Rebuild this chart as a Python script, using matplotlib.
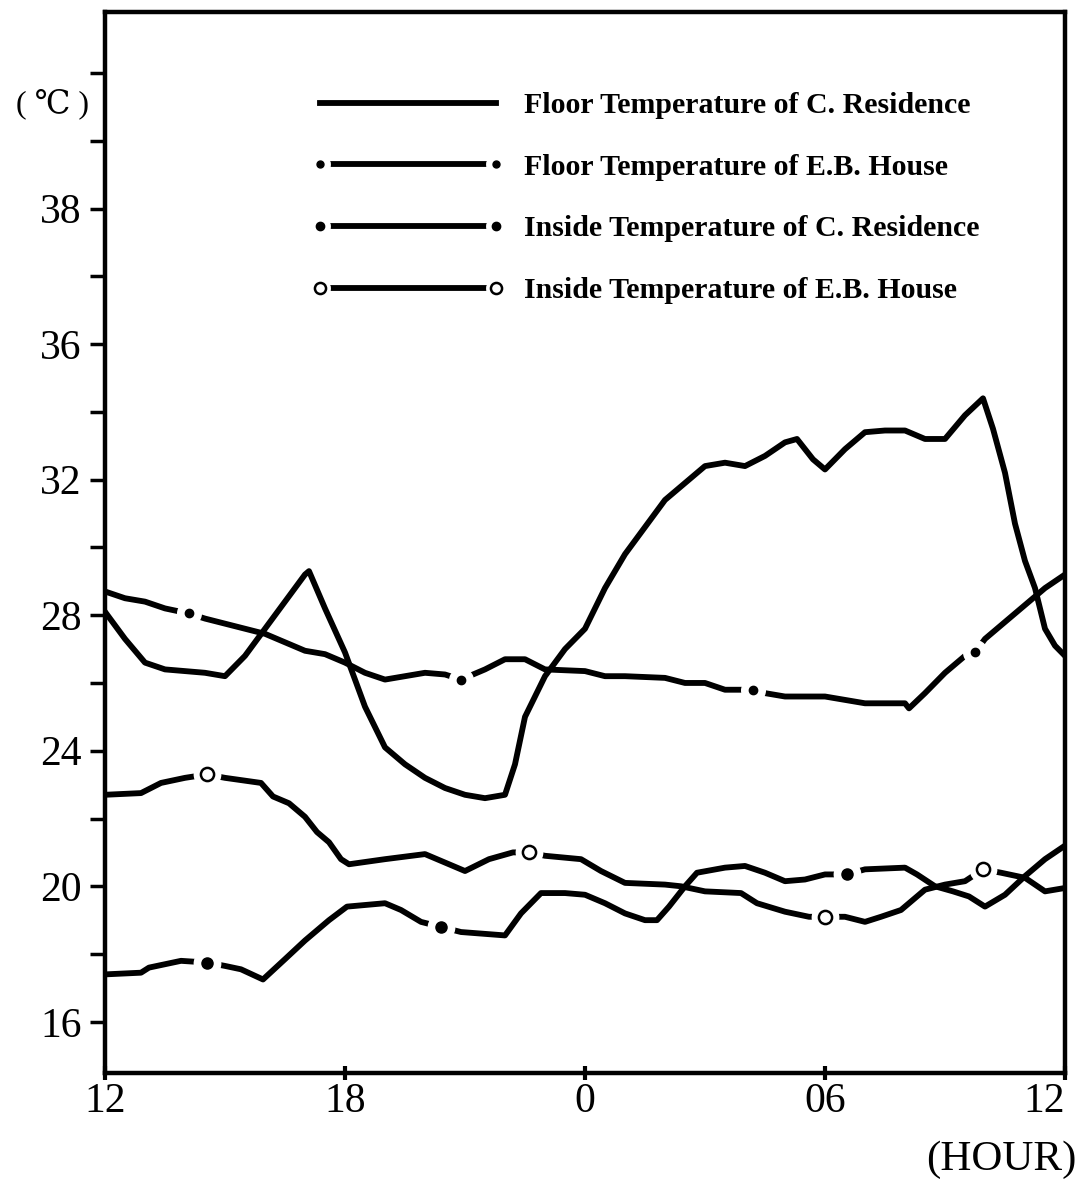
import numpy as np
import matplotlib
matplotlib.use('Agg')
import matplotlib.pyplot as plt
from matplotlib.lines import Line2D
from matplotlib.legend_handler import HandlerTuple

plt.rcParams['font.family'] = ['Liberation Serif', 'DejaVu Serif']

# hours counted from 12:00 (0 = noon, 24 = next noon)
floor_c_hours = [0, 0.5, 1, 1.5, 2, 2.5, 3, 3.5, 4, 4.5, 5, 5.1, 5.5, 6, 6.5, 7, 7.5, 8,
                 8.5, 9, 9.5, 10, 10.25, 10.5, 11, 11.5, 12, 12.5, 13, 13.5, 14, 14.5,
                 15, 15.5, 16, 16.5, 17, 17.3, 17.7, 18, 18.5, 19, 19.5, 20, 20.5, 21,
                 21.5, 21.95, 22.2, 22.5, 22.75, 23, 23.25, 23.5, 23.75, 24]
floor_c_temp = [28.1, 27.3, 26.6, 26.4, 26.35, 26.3, 26.2, 26.8, 27.6, 28.4, 29.2, 29.3,
                28.2, 26.9, 25.3, 24.1, 23.6, 23.2, 22.9, 22.7, 22.6, 22.7, 23.6, 25.0,
                26.2, 27.0, 27.6, 28.8, 29.8, 30.6, 31.4, 31.9, 32.4, 32.5, 32.4, 32.7,
                33.1, 33.2, 32.6, 32.3, 32.9, 33.4, 33.45, 33.45, 33.2, 33.2, 33.9, 34.4,
                33.5, 32.2, 30.7, 29.6, 28.8, 27.6, 27.1, 26.8]

floor_eb_hours = [0, 0.5, 1, 1.5, 2.1, 2.5, 3, 3.5, 4, 4.5, 5, 5.5, 6, 6.5, 7, 7.5, 8,
                  8.5, 8.9, 9.5, 10, 10.5, 11, 12, 12.5, 13, 14, 14.5, 15, 15.5, 16.2,
                  16.5, 17, 18, 18.5, 19, 20, 20.1, 20.5, 21, 21.5, 21.75, 22, 22.5, 23,
                  23.5, 24]
floor_eb_temp = [28.7, 28.5, 28.4, 28.2, 28.05, 27.9, 27.75, 27.6, 27.45, 27.2, 26.95,
                 26.85, 26.6, 26.3, 26.1, 26.2, 26.3, 26.25, 26.1, 26.4, 26.7, 26.7, 26.4,
                 26.35, 26.2, 26.2, 26.15, 26.0, 26.0, 25.8, 25.8, 25.7, 25.6, 25.6, 25.5,
                 25.4, 25.4, 25.25, 25.7, 26.3, 26.8, 26.9, 27.3, 27.8, 28.3, 28.8, 29.2]
floor_eb_marks = [2.1, 8.9, 16.2, 21.75]

inside_c_hours = [0, 0.9, 1.1, 1.9, 2.55, 3, 3.4, 3.95, 4.5, 5, 5.6, 6.05, 7, 7.4, 7.9,
                  8.4, 8.9, 10, 10.4, 10.9, 11.5, 12, 12.5, 13, 13.5, 13.8, 14.1, 14.5,
                  14.8, 15.5, 16, 16.5, 17, 17.5, 18, 18.55, 19, 20, 20.3, 20.75, 21.2,
                  21.6, 22, 22.5, 23, 23.5, 24]
inside_c_temp = [17.4, 17.45, 17.6, 17.8, 17.75, 17.65, 17.55, 17.25, 17.85, 18.4, 19.0,
                 19.4, 19.5, 19.3, 18.95, 18.8, 18.65, 18.55, 19.2, 19.8, 19.8, 19.75,
                 19.5, 19.2, 19.0, 19.0, 19.4, 20.0, 20.4, 20.55, 20.6, 20.4, 20.15, 20.2,
                 20.35, 20.35, 20.5, 20.55, 20.35, 20.0, 19.85, 19.7, 19.4, 19.75, 20.3,
                 20.8, 21.2]
inside_c_marks = [2.55, 8.4, 18.55]

inside_eb_hours = [0, 0.9, 1.4, 2, 2.55, 3, 3.9, 4.2, 4.6, 5, 5.3, 5.6, 5.9, 6.1, 7, 8,
                   8.5, 9, 9.6, 10.2, 10.6, 11, 11.9, 12.4, 13, 14, 14.4, 15, 15.9, 16.3,
                   17, 17.6, 18, 18.5, 19, 19.4, 19.9, 20.5, 21, 21.5, 21.95, 22.4, 23,
                   23.5, 24]
inside_eb_temp = [22.7, 22.75, 23.05, 23.2, 23.3, 23.2, 23.05, 22.65, 22.45, 22.05, 21.6,
                  21.3, 20.8, 20.65, 20.8, 20.95, 20.7, 20.45, 20.8, 21.0, 21.0, 20.9,
                  20.8, 20.45, 20.1, 20.05, 20.0, 19.85, 19.8, 19.5, 19.25, 19.1, 19.1,
                  19.1, 18.95, 19.1, 19.3, 19.9, 20.05, 20.15, 20.5, 20.4, 20.25, 19.85,
                  19.95]
inside_eb_marks = [2.55, 10.6, 18.0, 21.95]

labels = ['Floor Temperature of C. Residence',
          'Floor Temperature of E.B. House',
          'Inside Temperature of C. Residence',
          'Inside Temperature of E.B. House']

x_ticks = [0, 6, 12, 18, 24]
x_labels = ['12', '18', '0', '06', '12']
y_ticks = list(range(16, 46, 2))
y_labels = {16: '16', 20: '20', 24: '24', 28: '28', 32: '32', 36: '36', 40: '38'}

LW = 4.2
fig = plt.figure(figsize=(10.82, 11.9), dpi=100)
ax = fig.add_axes([105 / 1082, 1 - 1073 / 1190, 960 / 1082, 1061 / 1190])

ax.plot(floor_c_hours, floor_c_temp, color='black', lw=LW, zorder=3)
ax.plot(floor_eb_hours, floor_eb_temp, color='black', lw=LW, zorder=3)
ax.plot(inside_c_hours, inside_c_temp, color='black', lw=LW, zorder=3)
ax.plot(inside_eb_hours, inside_eb_temp, color='black', lw=LW, zorder=3)

# markers sitting in small gaps of the lines
mark_styles = [
    (floor_eb_hours, floor_eb_temp, floor_eb_marks, 17, dict(marker='o', ms=6, mfc='black', mec='black')),
    (inside_c_hours, inside_c_temp, inside_c_marks, 19, dict(marker='o', ms=8, mfc='black', mec='black')),
    (inside_eb_hours, inside_eb_temp, inside_eb_marks, 19, dict(marker='o', ms=9.5, mfc='white', mec='black', mew=1.8)),
]
for hrs, tmp, marks, halo, style in mark_styles:
    idx = [hrs.index(m) for m in marks]
    ax.plot(hrs, tmp, ls='none', marker='o', ms=halo, mfc='white', mec='white',
            markevery=idx, zorder=4)
    ax.plot(hrs, tmp, ls='none', markevery=idx, zorder=5, **style)

ax.set_xlim(0, 24)
ax.set_ylim(14.49, 45.8)
ax.set_xticks(x_ticks)
ax.set_xticklabels(x_labels)
ax.set_yticks(y_ticks)
ax.set_yticklabels([y_labels.get(v, '') for v in y_ticks])
ax.get_xticklabels()[-1].set_horizontalalignment('right')

ax.tick_params(axis='y', direction='out', length=11, width=2.5, labelsize=30, pad=6)
ax.tick_params(axis='x', direction='inout', length=10, width=3, labelsize=30, pad=2)
for sp in ax.spines.values():
    sp.set_linewidth(3.2)

# legend
def handle(style):
    line = Line2D([], [], color='black', lw=LW)
    if style is None:
        return line
    halo, kw = style
    return (line,
            Line2D([], [], ls='none', marker='o', ms=halo, mfc='white', mec='white'),
            Line2D([], [], ls='none', **kw))

handles = [handle(None),
           handle((14, dict(marker='o', ms=5, mfc='black', mec='black'))),
           handle((14, dict(marker='o', ms=6, mfc='black', mec='black'))),
           handle((14, dict(marker='o', ms=8, mfc='white', mec='black', mew=1.8)))]
leg = ax.legend(handles, labels, loc='upper left', bbox_to_anchor=(0.2146, 0.9245),
                frameon=False, numpoints=2, handlelength=6.5, handletextpad=0.64,
                labelspacing=1.16, borderpad=0, borderaxespad=0,
                prop={'size': 21.5, 'weight': 'bold'},
                handler_map={tuple: HandlerTuple(ndivide=1, pad=0)})

fig.text(53 / 1082, 1 - 104 / 1190, '( ℃ )', ha='center', va='center', fontsize=23)
fig.text(1076 / 1082, 1 - 1160 / 1190, '(HOUR)', ha='right', va='center', fontsize=31)

fig.savefig('out.png', dpi=100)
